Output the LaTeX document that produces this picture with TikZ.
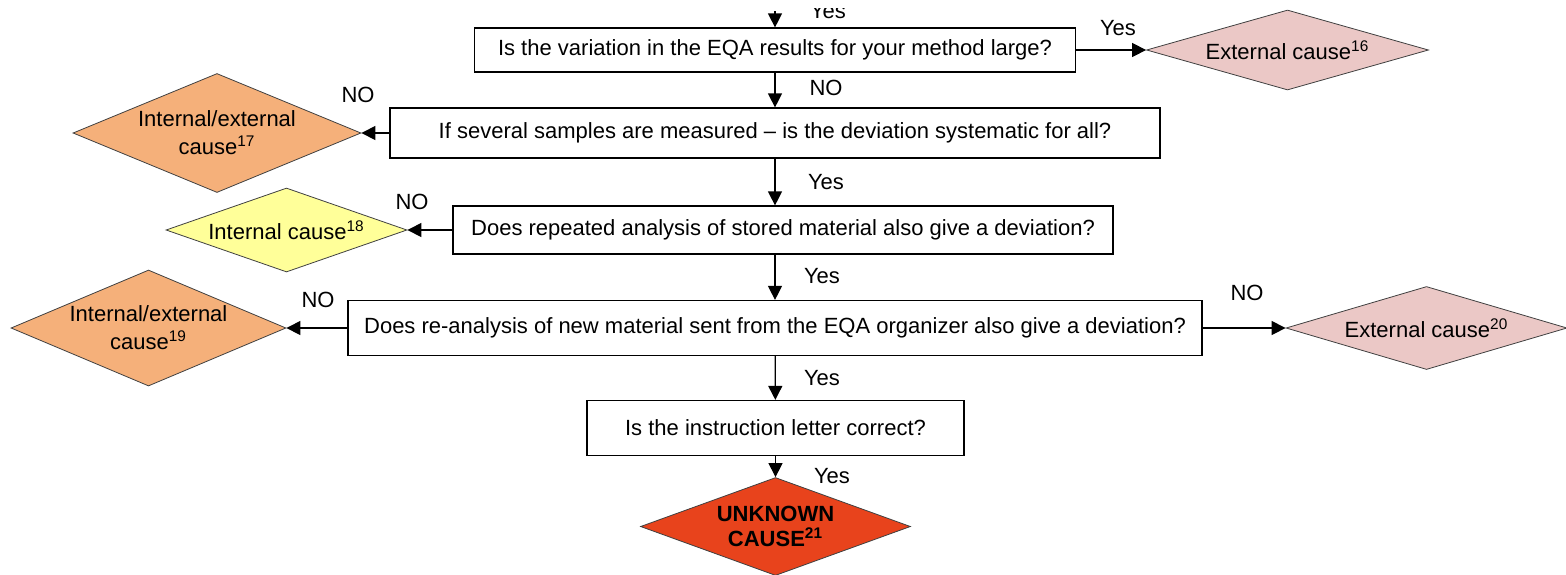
\documentclass[tikz,border=0pt]{standalone}
\usepackage{fontspec}
\setmainfont{Liberation Sans}
\usetikzlibrary{shapes.geometric, arrows.meta, positioning}
\definecolor{extcause}{HTML}{EBC8C6}
\definecolor{mixcause}{HTML}{F5B07A}
\definecolor{intcause}{HTML}{FFFF99}
\definecolor{unkcause}{HTML}{E8431C}

\begin{document}
\begin{tikzpicture}[
  x=0.5pt, y=-0.5pt,
  question/.style={
    rectangle, draw=black, line width=0.6pt, fill=white,
    inner sep=0pt, font=\fontsize{11}{13}\selectfont
  },
  cause/.style={
    diamond, draw=black!75, line width=0.4pt, inner sep=0pt,
    align=center, font=\fontsize{11}{14}\selectfont
  },
  ext/.style={cause, fill=extcause, aspect=3.5, minimum width=141pt, minimum height=40pt},
  mix/.style={cause, fill=mixcause, aspect=2.38, minimum width=144pt, minimum height=59.5pt},
  int/.style={cause, fill=intcause, aspect=2.87, minimum width=120.5pt, minimum height=42pt},
  unk/.style={cause, fill=unkcause, aspect=2.76, minimum width=135pt, minimum height=49pt,
    font=\fontsize{11}{12.5}\selectfont\bfseries},
  arr/.style={-{Triangle[length=7pt, width=7pt]}, line width=0.6pt},
  lbl/.style={font=\fontsize{11}{13}\selectfont}
]
  \useasboundingbox (0,0) rectangle (1566,574);
  \clip (0,8) rectangle (1566,574);

  \node[question, minimum width=300.5pt, minimum height=22pt] (q1) at (775,50)
    {Is the variation in the EQA results for your method large?};
  \node[question, minimum width=385pt, minimum height=25pt] (q2) at (775,133)
    {If several samples are measured \textendash\ is the deviation systematic for all?};
  \node[question, minimum width=330pt, minimum height=24pt] (q3) at (783,230)
    {Does repeated analysis of stored material also give a deviation?};
  \node[question, minimum width=427pt, minimum height=27.5pt] (q4) at (775,328)
    {Does re-analysis of new material sent from the EQA organizer also give a deviation?};
  \node[question, minimum width=188.5pt, minimum height=27.5pt] (q5) at (775.5,428)
    {Is the instruction letter correct?};

  \node[ext, right=35pt of q1] (c16) {External cause\textsuperscript{16}};
  \node[mix, left=14pt of q2] (c17) {Internal/external\\cause\textsuperscript{17}};
  \node[int, left=22.5pt of q3] (c18) {Internal cause\textsuperscript{18}};
  \node[mix, minimum width=137.5pt, minimum height=58pt, left=30.5pt of q4] (c19)
    {Internal/external\\cause\textsuperscript{19}};
  \node[ext, minimum width=140.5pt, minimum height=41.5pt, right=41.5pt of q4] (c20)
    {External cause\textsuperscript{20}};
  \node[unk, below=10.5pt of q5] (c21) {UNKNOWN\\CAUSE\textsuperscript{21}};

  \coordinate (entry) at (775,11);
  \draw[arr] (entry) -- (q1);
  \draw[arr] (q1) -- (c16);
  \draw[arr] (q1) -- (q2);
  \draw[arr] (q2) -- (c17);
  \draw[arr] (q2.south) -- (q2.south |- q3.north);
  \draw[arr] (q3) -- (c18);
  \draw[arr] (q3.south -| q4.north) -- (q4.north);
  \draw[arr] (q4) -- (c19);
  \draw[arr] (q4) -- (c20);
  \draw[arr] (q4) -- (q5);
  \draw[arr] (q5) -- (c21);

  \node[lbl, anchor=base] (y0) at (828,18) {Yes};
  \node[lbl] (y1) at (1118,28) {Yes};
  \node[lbl] (n1) at (826,88) {NO};
  \node[lbl] (n2) at (358,95) {NO};
  \node[lbl] (y2) at (826,182) {Yes};
  \node[lbl] (n3) at (412,202) {NO};
  \node[lbl] (y3) at (822,276) {Yes};
  \node[lbl] (n4) at (318,300) {NO};
  \node[lbl] (n5) at (1247,293) {NO};
  \node[lbl] (y4) at (822,378) {Yes};
  \node[lbl] (y5) at (832,476) {Yes};
\end{tikzpicture}
\end{document}
